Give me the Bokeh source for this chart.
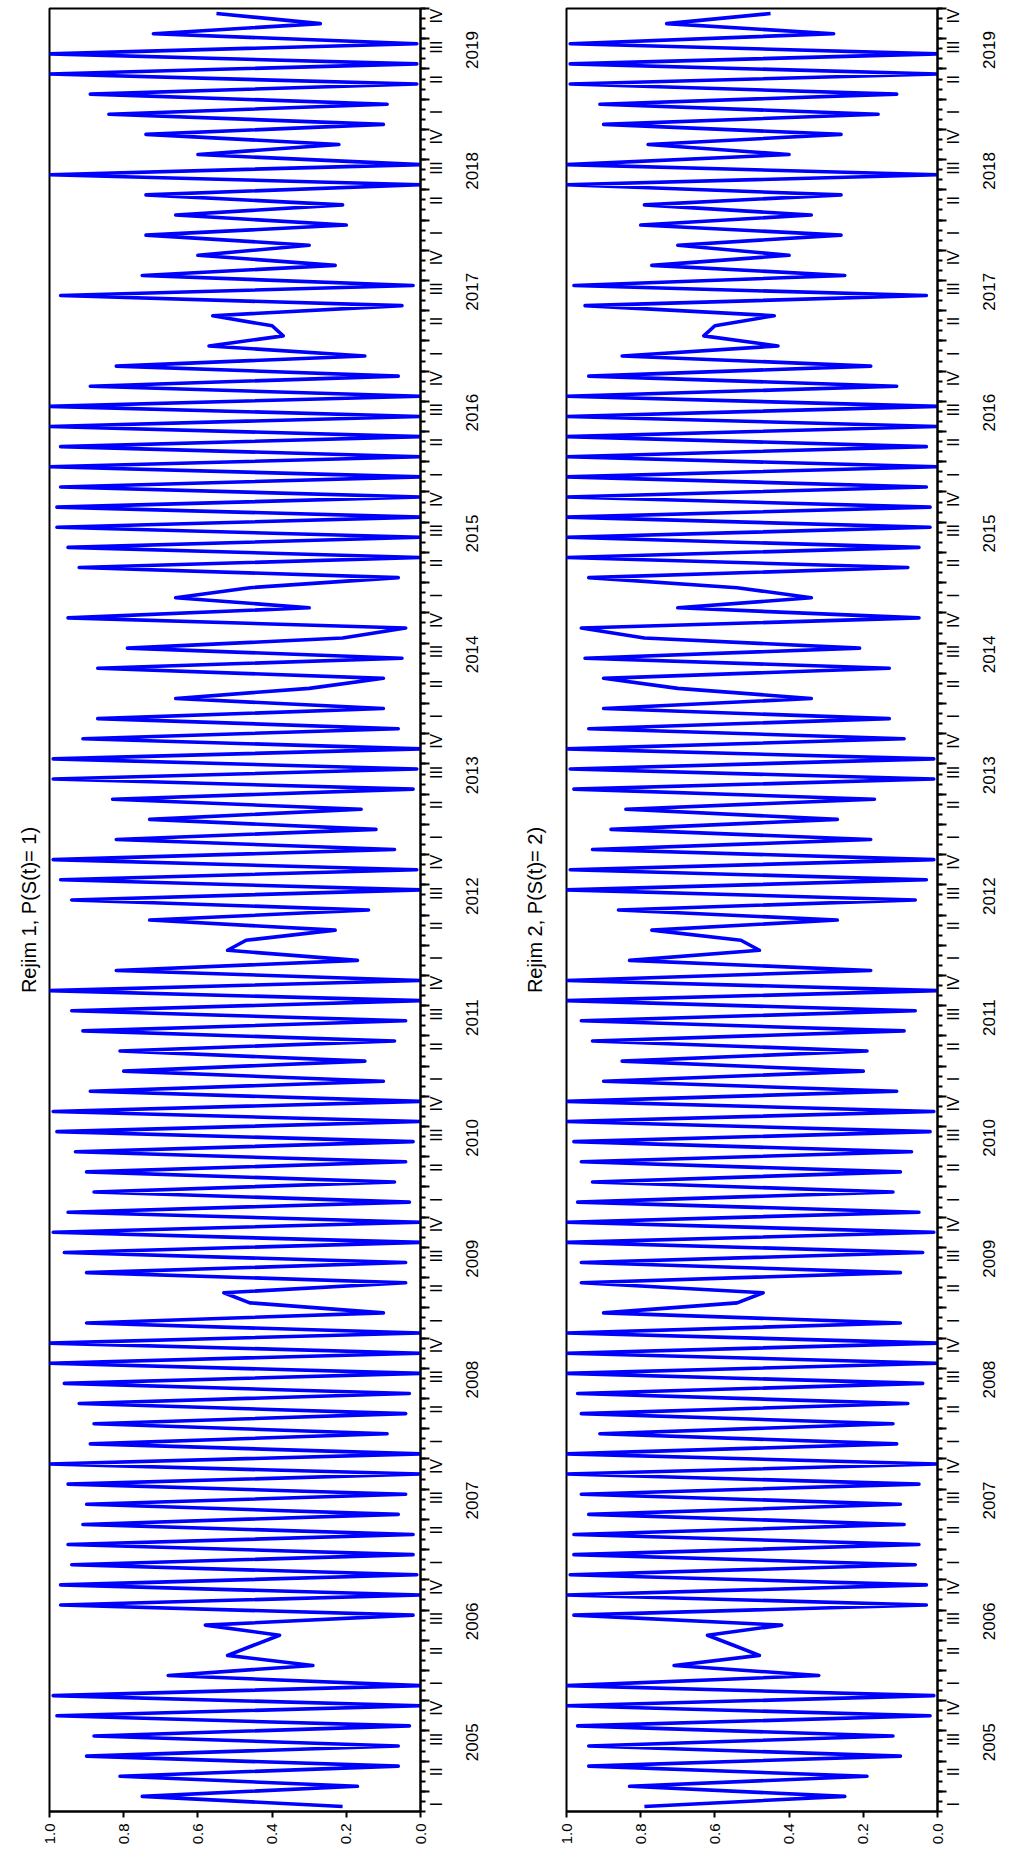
import math
import numpy as np
from bokeh.plotting import figure
from bokeh.models import Range1d, FixedTicker, LinearAxis, CustomJSTickFormatter
from bokeh.layouts import row
from bokeh.embed import file_html
from bokeh.resources import INLINE

# ---------------- data ----------------
first_month_index = 1          # series starts 2005M02 (index 0 = 2005M01)
years = [str(y) for y in range(2005, 2020)]
quarter_labels = ["I", "II", "III", "IV"]
prob_ticks = [0.0, 0.2, 0.4, 0.6, 0.8, 1.0]

rejim1 = [
    0.21, 0.75, 0.17, 0.81, 0.06, 0.90, 0.06, 0.88, 0.03, 0.98, 0.00,
    0.99, 0.00, 0.68, 0.29, 0.52, 0.45, 0.38, 0.58, 0.02, 0.97, 0.00, 0.97,
    0.01, 0.94, 0.02, 0.95, 0.02, 0.91, 0.06, 0.90, 0.04, 0.95, 0.00, 1.00,
    0.00, 0.89, 0.09, 0.88, 0.04, 0.92, 0.03, 0.96, 0.00, 1.00, 0.00, 1.00,
    0.00, 0.90, 0.10, 0.46, 0.53, 0.04, 0.90, 0.04, 0.96, 0.00, 0.99, 0.00,
    0.95, 0.03, 0.88, 0.07, 0.90, 0.04, 0.93, 0.02, 0.98, 0.00, 0.99, 0.00,
    0.89, 0.10, 0.80, 0.15, 0.81, 0.07, 0.91, 0.04, 0.94, 0.00, 1.00, 0.00,
    0.82, 0.17, 0.52, 0.47, 0.23, 0.73, 0.14, 0.94, 0.00, 0.97, 0.01, 0.99,
    0.07, 0.82, 0.12, 0.73, 0.16, 0.83, 0.02, 0.99, 0.01, 0.99, 0.00, 0.91,
    0.06, 0.87, 0.10, 0.66, 0.30, 0.10, 0.87, 0.05, 0.79, 0.21, 0.04, 0.95,
    0.30, 0.66, 0.46, 0.06, 0.92, 0.00, 0.95, 0.00, 0.98, 0.00, 0.98, 0.00,
    0.97, 0.00, 1.00, 0.00, 0.97, 0.00, 1.00, 0.00, 1.00, 0.00, 0.89, 0.06,
    0.82, 0.15, 0.57, 0.37, 0.40, 0.56, 0.05, 0.97, 0.02, 0.75, 0.23, 0.60,
    0.30, 0.74, 0.20, 0.66, 0.21, 0.74, 0.00, 1.00, 0.00, 0.60, 0.22, 0.74,
    0.10, 0.84, 0.09, 0.89, 0.01, 1.00, 0.01, 1.00, 0.01, 0.72, 0.27, 0.55,
]

rejim2 = [
    0.79, 0.25, 0.83, 0.19, 0.94, 0.10, 0.94, 0.12, 0.97, 0.02, 1.00,
    0.01, 1.00, 0.32, 0.71, 0.48, 0.55, 0.62, 0.42, 0.98, 0.03, 1.00, 0.03,
    0.99, 0.06, 0.98, 0.05, 0.98, 0.09, 0.94, 0.10, 0.96, 0.05, 1.00, 0.00,
    1.00, 0.11, 0.91, 0.12, 0.96, 0.08, 0.97, 0.04, 1.00, 0.00, 1.00, 0.00,
    1.00, 0.10, 0.90, 0.54, 0.47, 0.96, 0.10, 0.96, 0.04, 1.00, 0.01, 1.00,
    0.05, 0.97, 0.12, 0.93, 0.10, 0.96, 0.07, 0.98, 0.02, 1.00, 0.01, 1.00,
    0.11, 0.90, 0.20, 0.85, 0.19, 0.93, 0.09, 0.96, 0.06, 1.00, 0.00, 1.00,
    0.18, 0.83, 0.48, 0.53, 0.77, 0.27, 0.86, 0.06, 1.00, 0.03, 0.99, 0.01,
    0.93, 0.18, 0.88, 0.27, 0.84, 0.17, 0.98, 0.01, 0.99, 0.01, 1.00, 0.09,
    0.94, 0.13, 0.90, 0.34, 0.70, 0.90, 0.13, 0.95, 0.21, 0.79, 0.96, 0.05,
    0.70, 0.34, 0.54, 0.94, 0.08, 1.00, 0.05, 1.00, 0.02, 1.00, 0.02, 1.00,
    0.03, 1.00, 0.00, 1.00, 0.03, 1.00, 0.00, 1.00, 0.00, 1.00, 0.11, 0.94,
    0.18, 0.85, 0.43, 0.63, 0.60, 0.44, 0.95, 0.03, 0.98, 0.25, 0.77, 0.40,
    0.70, 0.26, 0.80, 0.34, 0.79, 0.26, 1.00, 0.00, 1.00, 0.40, 0.78, 0.26,
    0.90, 0.16, 0.91, 0.11, 0.99, 0.00, 0.99, 0.00, 0.99, 0.28, 0.73, 0.45,
]

n_months = 12 * len(years)                      # 180 month slots 2005M01..2019M12
month_pos = np.arange(first_month_index, first_month_index + len(rejim1))

FONT = "Liberation Sans"
BLUE = "#0000FF"


def make_panel(values, title, left_border, right_border, title_standoff):
    p = figure(frame_width=371, frame_height=1803,
               x_range=Range1d(1.0, 0.0),
               y_range=Range1d(first_month_index - 0.5, n_months - 0.5),
               output_backend="svg", toolbar_location=None,
               y_axis_location="right", title=title, title_location="left",
               min_border_left=left_border, min_border_top=8,
               min_border_right=right_border, min_border_bottom=0)
    p.background_fill_color = "white"
    p.border_fill_color = "white"
    p.outline_line_color = "black"
    p.outline_line_width = 2
    p.grid.visible = False

    p.title.text_font = FONT
    p.title.text_font_style = "normal"
    p.title.text_font_size = "20px"
    p.title.text_color = "black"
    p.title.align = "center"
    p.title.standoff = title_standoff

    p.line(x=values, y=month_pos, line_color=BLUE, line_width=3.6, line_join="round")

    # probability axis (bottom)
    xa = p.xaxis[0]
    xa.ticker = FixedTicker(ticks=prob_ticks, minor_ticks=[])
    xa.formatter = CustomJSTickFormatter(code="return tick.toFixed(1);")
    xa.major_label_orientation = math.pi / 2
    xa.major_label_text_font = FONT
    xa.major_label_text_font_size = "15px"
    xa.major_label_text_color = "black"
    xa.major_label_standoff = 6
    xa.major_tick_out = 6
    xa.major_tick_in = 0
    xa.axis_line_width = 2
    xa.major_tick_line_width = 2

    # time axis: ticks only (quarter boundaries long, month boundaries short)
    month_bounds = [k + 0.5 for k in range(n_months)]
    quarter_bounds = [3 * k - 0.5 for k in range(n_months // 3 + 1)]
    ya = p.yaxis[0]
    ya.ticker = FixedTicker(ticks=quarter_bounds, minor_ticks=month_bounds)
    ya.formatter = CustomJSTickFormatter(code="return '';")
    ya.major_tick_out = 9
    ya.major_tick_in = 0
    ya.minor_tick_out = 5
    ya.minor_tick_in = 0
    ya.major_label_standoff = 0
    ya.axis_line_width = 2
    ya.major_tick_line_width = 2
    ya.minor_tick_line_width = 2

    # quarter labels
    q_centers = [3 * k + 1 for k in range(n_months // 3)]
    qa = LinearAxis(ticker=FixedTicker(ticks=q_centers, minor_ticks=[]),
                    formatter=CustomJSTickFormatter(args=dict(labels=quarter_labels),
                                                    code="return labels[Math.round(((tick - 1) % 12) / 3)];"))
    qa.axis_line_color = None
    qa.major_tick_line_color = None
    qa.minor_tick_line_color = None
    qa.major_tick_out = 0
    qa.major_tick_in = 0
    qa.major_label_orientation = math.pi / 2
    qa.major_label_text_font = FONT
    qa.major_label_text_font_size = "16px"
    qa.major_label_text_color = "black"
    qa.major_label_standoff = 7
    p.add_layout(qa, "right")

    # year labels
    y_centers = [12 * k + 5.5 for k in range(len(years))]
    ra = LinearAxis(ticker=FixedTicker(ticks=y_centers, minor_ticks=[]),
                    formatter=CustomJSTickFormatter(args=dict(labels=years),
                                                    code="return labels[Math.floor(tick / 12)];"))
    ra.axis_line_color = None
    ra.major_tick_line_color = None
    ra.minor_tick_line_color = None
    ra.major_tick_out = 0
    ra.major_tick_in = 0
    ra.major_label_orientation = math.pi / 2
    ra.major_label_text_font = FONT
    ra.major_label_text_font_size = "17px"
    ra.major_label_text_color = "black"
    ra.major_label_standoff = 16
    p.add_layout(ra, "right")
    return p


p1 = make_panel(rejim1, "Rejim 1, P(S(t)= 1)", 49, 80, 20)
p2 = make_panel(rejim2, "Rejim 2, P(S(t)= 2)", 65, 60, 42)

layout = row(p1, p2)
open("out.html", "w").write(file_html(layout, INLINE))
